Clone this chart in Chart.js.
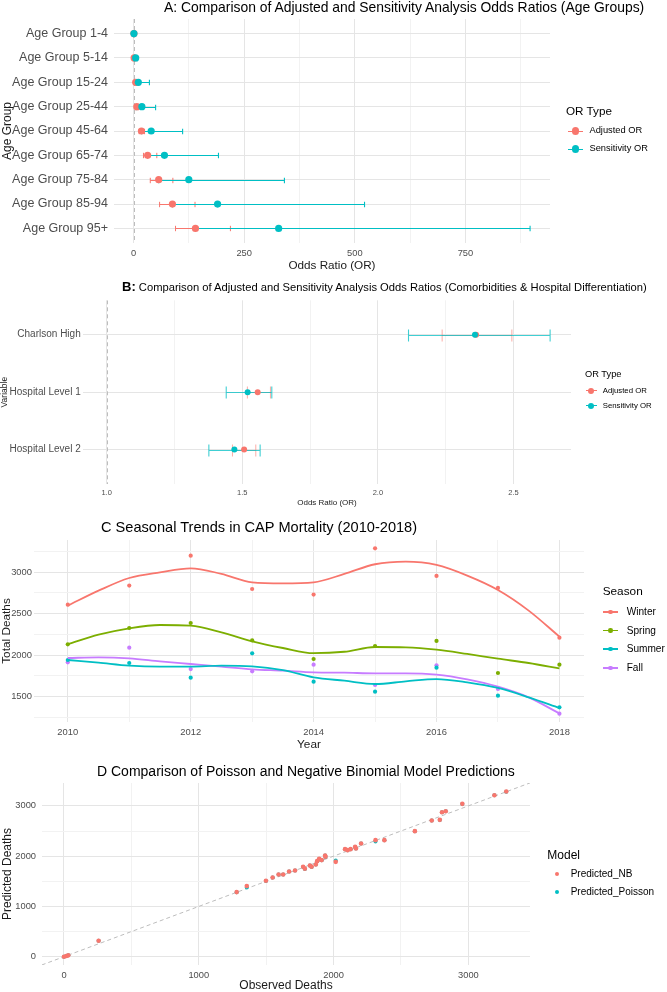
<!DOCTYPE html>
<html>
<head>
<meta charset="utf-8">
<title>CAP mortality figure</title>
<script src="https://cdn.jsdelivr.net/npm/chart.js@4.4.1/dist/chart.umd.min.js"></script>
<style>
  body { margin: 0; background: #fff; font-family: 'Liberation Sans', Arial, Helvetica, sans-serif; }
  #page { position: relative; width: 667px; height: 992px; overflow: hidden; }
  canvas { position: absolute; left: 0; }
  .txt { position: absolute; white-space: nowrap; line-height: 1; transform: translateY(-50%); color: #000; }
  .key-line, .key-dot { position: absolute; }
  .key-dot { border-radius: 50%; }
</style>
</head>
<body>
<div id="page">
  <canvas id="chartA" width="667" height="275" style="top:0"></canvas>
  <canvas id="chartB" width="667" height="218" style="top:292px"></canvas>
  <canvas id="chartC" width="667" height="244" style="top:510px"></canvas>
  <canvas id="chartD" width="667" height="236" style="top:756px"></canvas>
</div>
<script>
// ---- data: panel A (age groups) ----
const ageGroups = ['Age Group 1-4', 'Age Group 5-14', 'Age Group 15-24', 'Age Group 25-44', 'Age Group 45-64',
                   'Age Group 65-74', 'Age Group 75-84', 'Age Group 85-94', 'Age Group 95+'];
const adjOR_A  = [1, 1.5, 5, 7.5, 18, 32, 57, 88, 140];
const adjLo_A  = [0.8, 1, 3.5, 5.5, 13, 22.6, 38, 59, 95];
const adjHi_A  = [1.3, 2.5, 8, 10.5, 25, 52.7, 89, 139, 219];
const sensOR_A = [1, 5, 11, 19, 40, 70, 125, 190, 328];
const sensLo_A = [0.5, 1.5, 5, 7.5, 18, 32, 57, 88, 140];
const sensHi_A = [1.5, 8, 36, 50, 111, 192, 341, 522, 896];
const xTicksA  = [0, 125, 250, 375, 500, 625, 750, 875];
const xMajorA  = [0, 250, 500, 750];

// ---- data: panel B (comorbidities & hospital level) ----
const varsB    = ['Charlson High', 'Hospital Level 1', 'Hospital Level 2'];
const adjOR_B  = [2.362, 1.557, 1.507];
const adjLo_B  = [2.237, 1.519, 1.464];
const adjHi_B  = [2.494, 1.604, 1.550];
const sensOR_B = [2.358, 1.520, 1.471];
const sensLo_B = [2.113, 1.441, 1.377];
const sensHi_B = [2.635, 1.609, 1.566];
const xTicksB  = [1.0, 1.25, 1.5, 1.75, 2.0, 2.25, 2.5];
const xMajorB  = [1.0, 1.5, 2.0, 2.5];
const orTypes  = ['Adjusted OR', 'Sensitivity OR'];

// ---- data: panel C (seasonal deaths) ----
const years   = [2010, 2011, 2012, 2013, 2014, 2015, 2016, 2017, 2018];
const winter  = [2609, 2839, 3201, 2798, 2730, 3290, 2956, 2811, 2210];
const spring  = [2130, 2327, 2387, 2178, 1952, 2109, 2170, 1783, 1884];
const summer  = [1940, 1904, 1727, 2021, 1678, 1557, 1847, 1509, 1368];
const fall    = [1912, 2089, 1831, 1803, 1884, 1638, 1876, 1590, 1291];
// smoothed trend every half year
const smoothYears  = [2010, 2010.5, 2011, 2011.5, 2012, 2012.5, 2013, 2013.5, 2014, 2014.5, 2015, 2015.5, 2016, 2016.5, 2017, 2017.5, 2018];
const winterSmooth = [2597, 2778, 2931, 3000, 3048, 2980, 2879, 2867, 2879, 2980, 3097, 3129, 3089, 2960, 2786, 2537, 2222];
const springSmooth = [2130, 2246, 2323, 2363, 2355, 2275, 2166, 2085, 2022, 2040, 2097, 2093, 2065, 2013, 1956, 1904, 1839];
const summerSmooth = [1940, 1908, 1872, 1860, 1860, 1872, 1864, 1819, 1731, 1690, 1650, 1682, 1710, 1670, 1602, 1489, 1360];
const fallSmooth   = [1964, 1972, 1960, 1924, 1892, 1860, 1827, 1811, 1791, 1787, 1779, 1779, 1763, 1706, 1618, 1489, 1295];
const seasons = ['Winter', 'Spring', 'Summer', 'Fall'];
const xTicksC = [2010, 2011, 2012, 2013, 2014, 2015, 2016, 2017, 2018];
const xMajorC = [2010, 2012, 2014, 2016, 2018];
const yTicksC = [1250, 1500, 1750, 2000, 2250, 2500, 2750, 3000, 3250];
const yMajorC = [1500, 2000, 2500, 3000];

// ---- data: panel D (observed vs predicted) ----
const observed = [0, 17, 32, 257, 1281, 1356, 1498, 1548, 1592, 1626, 1670, 1714, 1774, 1787, 1824, 1837, 1868, 1878, 1893,
                  1912, 1937, 1940, 2016, 2085, 2104, 2126, 2160, 2166, 2204, 2311, 2377, 2603, 2728, 2788, 2804, 2832,
                  2955, 3193, 3281];
const predNB   = [0, 13, 27, 318, 1285, 1404, 1510, 1576, 1636, 1636, 1695, 1715, 1788, 1748, 1815, 1788, 1834, 1901, 1947,
                  1921, 2013, 1987, 1887, 2139, 2119, 2139, 2185, 2152, 2252, 2318, 2318, 2497, 2709, 2722, 2874, 2894,
                  3040, 3212, 3285];
const predPois = [0, 13, 27, 316, 1283, 1377, 1508, 1574, 1634, 1634, 1693, 1713, 1786, 1746, 1813, 1786, 1832, 1899, 1945,
                  1919, 2011, 1985, 1914, 2137, 2117, 2137, 2183, 2150, 2250, 2291, 2316, 2495, 2707, 2720, 2872, 2892,
                  3038, 3210, 3283];
const models  = ['Predicted_NB', 'Predicted_Poisson'];
const xyTicksD = [0, 500, 1000, 1500, 2000, 2500, 3000];
const xyMajorD = [0, 1000, 2000, 3000];

// ---- look ----
const RED = '#F8766D', GREEN = '#7CAE00', TEAL = '#00BFC4', PURPLE = '#C77CFF';
const GRID_MAJOR = '#e5e5e5', GRID_MINOR = '#f2f2f2', TICK_COLOR = '#4d4d4d';

Chart.defaults.font.family = "'Liberation Sans', Arial, Helvetica, sans-serif";
Chart.defaults.animation = false;

function axis(o) {
    return {
        type: 'linear', min: o.min, max: o.max, reverse: !!o.reverse,
        afterBuildTicks: s => { s.ticks = o.ticks.map(v => ({ value: v })); },
        afterFit: s => { if (o.width) s.width = o.width; if (o.height) s.height = o.height; },
        grid: { color: c => o.majors.includes(c.tick.value) ? GRID_MAJOR : GRID_MINOR, drawTicks: false, lineWidth: 1 },
        border: { display: false },
        ticks: {
            autoSkip: false, maxRotation: 0, padding: o.pad, color: TICK_COLOR, font: { size: o.size },
            callback: v => o.majors.includes(v) ? o.fmt(v) : ''
        },
        title: {
            display: true, text: o.title, color: '#1a1a1a',
            font: { size: o.titleSize, lineHeight: o.titleLh || 1.2 },
            padding: { top: 0, bottom: o.titlePad || 0 }
        }
    };
}

function errorBarPlugin(bars, capHalf) {
    return {
        id: 'errorBars',
        beforeDatasetsDraw(chart) {
            const { ctx, scales: { x, y } } = chart;
            ctx.save();
            bars.forEach(b => {
                ctx.strokeStyle = b.color;
                ctx.lineWidth = b.width;
                b.lo.forEach((lo, i) => {
                    const py = Math.round(y.getPixelForValue(i + 1)) + 0.5;
                    const x0 = x.getPixelForValue(lo), x1 = x.getPixelForValue(b.hi[i]);
                    ctx.beginPath();
                    ctx.moveTo(x0, py); ctx.lineTo(x1, py);
                    ctx.moveTo(x0, py - capHalf); ctx.lineTo(x0, py + capHalf);
                    ctx.moveTo(x1, py - capHalf); ctx.lineTo(x1, py + capHalf);
                    ctx.stroke();
                });
            });
            ctx.restore();
        }
    };
}

function refLinePlugin(kind, value) {
    return {
        id: 'refLine',
        beforeDatasetsDraw(chart) {
            const { ctx, chartArea: a, scales: { x, y } } = chart;
            ctx.save();
            ctx.beginPath(); ctx.rect(a.left, a.top, a.width, a.height); ctx.clip();
            ctx.strokeStyle = '#bdbdbd';
            ctx.lineWidth = 1;
            ctx.setLineDash([4, 3]);
            ctx.beginPath();
            if (kind === 'vertical') {
                const px = Math.round(x.getPixelForValue(value)) + 0.5;
                ctx.moveTo(px, a.top); ctx.lineTo(px, a.bottom);
            } else {
                const v0 = Math.min(x.min, y.min), v1 = Math.max(x.max, y.max);
                ctx.moveTo(x.getPixelForValue(v0), y.getPixelForValue(v0));
                ctx.lineTo(x.getPixelForValue(v1), y.getPixelForValue(v1));
            }
            ctx.stroke();
            ctx.restore();
        }
    };
}

const rows = arr => arr.map((v, i) => ({ x: v, y: i + 1 }));
const pts = (xs, ys) => xs.map((v, i) => ({ x: v, y: ys[i] }));
const noPlugins = { legend: { display: false }, tooltip: { enabled: false } };

// ---- panel A ----
new Chart(document.getElementById('chartA'), {
    type: 'scatter',
    data: {
        datasets: [
            { label: orTypes[1], data: rows(sensOR_A), backgroundColor: TEAL, pointRadius: 3.6, pointBorderWidth: 0 },
            { label: orTypes[0], data: rows(adjOR_A), backgroundColor: RED, pointRadius: 3.6, pointBorderWidth: 0 }
        ]
    },
    options: {
        responsive: false,
        layout: { padding: { top: 19, right: 117, left: 0, bottom: 0 } },
        plugins: noPlugins,
        scales: {
            x: axis({ min: -44, max: 941, ticks: xTicksA, majors: xMajorA, fmt: v => String(v), size: 9.3, pad: 4.5,
                      height: 32, title: 'Odds Ratio (OR)', titleSize: 11.7, titlePad: 2 }),
            y: axis({ min: 0.4, max: 9.6, reverse: true, ticks: [1, 2, 3, 4, 5, 6, 7, 8, 9], majors: [1, 2, 3, 4, 5, 6, 7, 8, 9],
                      fmt: v => ageGroups[v - 1], size: 12.5, pad: 6, width: 114, title: 'Age Group', titleSize: 12 })
        }
    },
    plugins: [refLinePlugin('vertical', 1), errorBarPlugin([
        { lo: adjLo_A, hi: adjHi_A, color: RED, width: 1 },
        { lo: sensLo_A, hi: sensHi_A, color: TEAL, width: 1.1 }
    ], 2.7)]
});

// ---- panel B ----
new Chart(document.getElementById('chartB'), {
    type: 'scatter',
    data: {
        datasets: [
            { label: orTypes[1], data: rows(sensOR_B), backgroundColor: TEAL, pointRadius: 3, pointBorderWidth: 0 },
            { label: orTypes[0], data: rows(adjOR_B), backgroundColor: RED, pointRadius: 3, pointBorderWidth: 0 }
        ]
    },
    options: {
        responsive: false,
        layout: { padding: { top: 6, right: 96, left: 0, bottom: 0 } },
        plugins: noPlugins,
        scales: {
            x: axis({ min: 0.913, max: 2.712, ticks: xTicksB, majors: xMajorB, fmt: v => v.toFixed(1), size: 7.5, pad: 4.9,
                      height: 26, title: 'Odds Ratio (OR)', titleSize: 8, titlePad: 2.2 }),
            y: axis({ min: 0.4, max: 3.6, reverse: true, ticks: [1, 2, 3], majors: [1, 2, 3],
                      fmt: v => varsB[v - 1], size: 10, pad: 2.3, width: 83, title: 'Variable', titleSize: 8.5 })
        }
    },
    plugins: [refLinePlugin('vertical', 1), errorBarPlugin([
        { lo: adjLo_B, hi: adjHi_B, color: 'rgba(248,118,109,0.6)', width: 1 },
        { lo: sensLo_B, hi: sensHi_B, color: 'rgba(0,191,196,0.75)', width: 1.1 }
    ], 6)]
});

// ---- panel C ----
const seasonColors = [RED, GREEN, TEAL, PURPLE];
const seasonPoints = [winter, spring, summer, fall];
const seasonSmooth = [winterSmooth, springSmooth, summerSmooth, fallSmooth];
new Chart(document.getElementById('chartC'), {
    type: 'scatter',
    data: {
        datasets: [
            ...seasons.map((s, i) => ({
                label: s + ' trend', data: pts(smoothYears, seasonSmooth[i]), showLine: true, pointRadius: 0,
                borderColor: seasonColors[i], borderWidth: 1.8, cubicInterpolationMode: 'monotone'
            })),
            ...seasons.map((s, i) => ({
                label: s, data: pts(years, seasonPoints[i]), backgroundColor: seasonColors[i],
                pointRadius: 2.1, pointBorderWidth: 0
            }))
        ]
    },
    options: {
        responsive: false,
        layout: { padding: { top: 30, right: 83, left: 0, bottom: 0 } },
        plugins: noPlugins,
        scales: {
            x: axis({ min: 2009.45, max: 2018.4, ticks: xTicksC, majors: xMajorC, fmt: v => String(v), size: 9.4, pad: 5,
                      height: 32, title: 'Year', titleSize: 11.8, titlePad: 1.9 }),
            y: axis({ min: 1191, max: 3390, ticks: yTicksC, majors: yMajorC, fmt: v => String(v), size: 9.4, pad: 2,
                      width: 34, title: 'Total Deaths', titleSize: 11.8 })
        }
    }
});

// ---- panel D ----
new Chart(document.getElementById('chartD'), {
    type: 'scatter',
    data: {
        datasets: [
            { label: models[0], data: pts(observed, predNB), backgroundColor: RED, pointRadius: 2.3, pointBorderWidth: 0 },
            { label: models[1], data: pts(observed, predPois), backgroundColor: TEAL, pointRadius: 2, pointBorderWidth: 0 }
        ]
    },
    options: {
        responsive: false,
        layout: { padding: { top: 27, right: 137, left: 0, bottom: 0 } },
        plugins: noPlugins,
        scales: {
            x: axis({ min: -163, max: 3457, ticks: xyTicksD, majors: xyMajorD, fmt: v => String(v), size: 9.3, pad: 4.5,
                      height: 27, title: 'Observed Deaths', titleSize: 12, titleLh: 1 }),
            y: axis({ min: -165, max: 3455, ticks: xyTicksD, majors: xyMajorD, fmt: v => String(v), size: 9.3, pad: 6,
                      width: 42, title: 'Predicted Deaths', titleSize: 12 })
        }
    },
    plugins: [refLinePlugin('diagonal')]
});

// ---- titles and legends (HTML text) ----
const page = document.getElementById('page');
function add(cls, style, text, html) {
    const d = document.createElement('div');
    d.className = cls;
    Object.assign(d.style, style);
    if (html) d.innerHTML = html; else if (text) d.textContent = text;
    page.appendChild(d);
    return d;
}
function legend(cfg) {
    add('txt', { left: cfg.x + 'px', top: cfg.titleY + 'px', fontSize: cfg.titleSize + 'px' }, cfg.title);
    cfg.labels.forEach((label, i) => {
        const y = cfg.y0 + i * cfg.dy;
        if (cfg.line) add('key-line', { left: cfg.line[0] + 'px', width: (cfg.line[1] - cfg.line[0]) + 'px',
            top: (y - cfg.lineW / 2) + 'px', height: cfg.lineW + 'px', background: cfg.colors[i] });
        add('key-dot', { left: (cfg.dotX - cfg.r) + 'px', top: (y - cfg.r) + 'px', width: 2 * cfg.r + 'px',
            height: 2 * cfg.r + 'px', background: cfg.colors[i] });
        add('txt', { left: cfg.textX + 'px', top: y + 'px', fontSize: cfg.textSize + 'px' }, label);
    });
}

add('txt', { left: '164px', top: '8px', fontSize: '13.9px' }, 'A: Comparison of Adjusted and Sensitivity Analysis Odds Ratios (Age Groups)');
add('txt', { left: '122px', top: '287px', fontSize: '11.2px' }, null,
    '<b style="font-size:13px">B:</b> Comparison of Adjusted and Sensitivity Analysis Odds Ratios (Comorbidities &amp; Hospital Differentiation)');
add('txt', { left: '101px', top: '527px', fontSize: '14.6px' }, 'C Seasonal Trends in CAP Mortality (2010-2018)');
add('txt', { left: '97px', top: '771px', fontSize: '14px' }, 'D Comparison of Poisson and Negative Binomial Model Predictions');

legend({ title: 'OR Type', x: 566, titleY: 111, titleSize: 11.7, labels: orTypes, colors: [RED, TEAL],
         y0: 131, dy: 18, line: [568, 583], lineW: 1, dotX: 575.5, r: 3.6, textX: 589.5, textSize: 9.3 });
legend({ title: 'OR Type', x: 585, titleY: 375, titleSize: 9.3, labels: orTypes, colors: [RED, TEAL],
         y0: 390.7, dy: 15, line: [586, 597], lineW: 1, dotX: 591, r: 3, textX: 602.7, textSize: 7.8 });
legend({ title: 'Season', x: 602.7, titleY: 592, titleSize: 11.8, labels: seasons, colors: seasonColors,
         y0: 611.7, dy: 18.8, line: [603, 618], lineW: 1.8, dotX: 610.5, r: 2.2, textX: 626.7, textSize: 10.1 });
legend({ title: 'Model', x: 547.3, titleY: 855, titleSize: 12, labels: models, colors: [RED, TEAL],
         y0: 874.3, dy: 18, line: null, dotX: 557.3, r: 2.2, textX: 570.7, textSize: 10 });
</script>
</body>
</html>
